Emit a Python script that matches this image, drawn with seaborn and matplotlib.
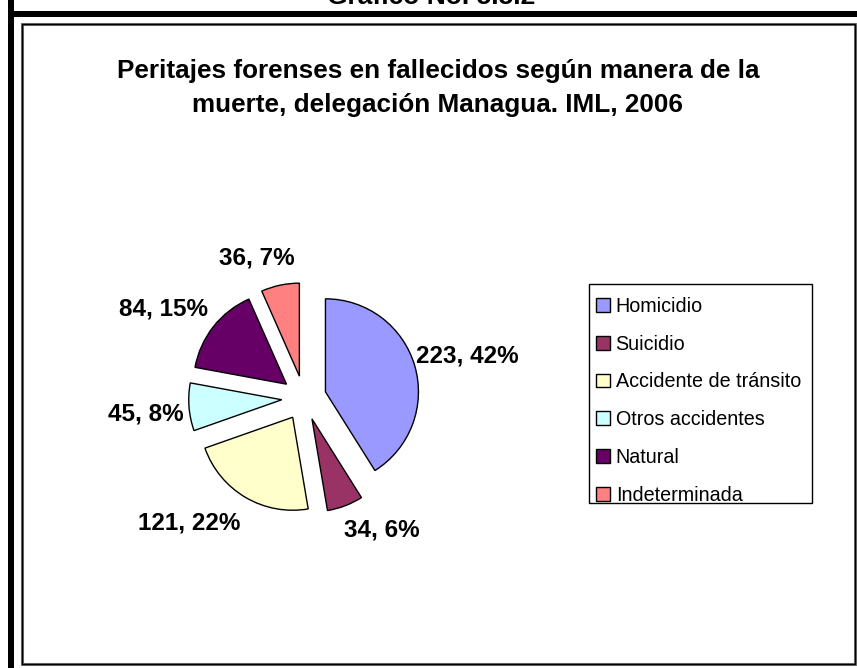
import math
import matplotlib
matplotlib.use("Agg")
import matplotlib.pyplot as plt
from matplotlib.patches import Rectangle
import seaborn as sns

# Datos: peritajes forenses en fallecidos por manera de la muerte
categorias = ["Homicidio", "Suicidio", "Accidente de tránsito",
              "Otros accidentes", "Natural", "Indeterminada"]
casos = [223, 34, 121, 45, 84, 36]
porcentajes = [42, 6, 22, 8, 15, 7]
colores = ["#9999FF", "#993366", "#FFFFCC", "#CCFFFF", "#660066", "#FF8080"]

titulo = "Peritajes forenses en fallecidos según manera de la\nmuerte, delegación Managua. IML, 2006"
encabezado = "Gráfico No. 5.5.2"

# Colocación de las etiquetas: distancia (en radios) y ajuste angular (grados)
dist_etiqueta = [1.81, 1.65, 1.82, 1.71, 1.79, 1.59]
giro_etiqueta = [-1.6, 9.6, -12.0, 1.2, 6.0, 6.5]

sns.set_theme(style="white")
plt.rcParams["font.family"] = ["Liberation Sans", "DejaVu Sans"]
plt.rcParams["text.color"] = "black"

W, H = 857, 668
fig = plt.figure(figsize=(W / 100, H / 100), dpi=100)
fig.patch.set_facecolor("white")

def fx(px):
    return px / W

def fy(py):
    return 1 - py / H

# Marco exterior grueso (parcialmente recortado) y marco interior del gráfico
fig.patches.append(Rectangle((fx(8), fy(668)), fx(6), 1, transform=fig.transFigure,
                             facecolor="black", edgecolor="none", zorder=0))
fig.patches.append(Rectangle((fx(8), fy(17)), 1, 6 / H, transform=fig.transFigure,
                             facecolor="black", edgecolor="none", zorder=0))
fig.patches.append(Rectangle((fx(22), fy(664)), fx(855 - 22), (664 - 24) / H,
                             transform=fig.transFigure, facecolor="none",
                             edgecolor="#777777", linewidth=2.2, zorder=1))
fig.patches.append(Rectangle((fx(21.5), fy(663.5)), fx(855 - 22), (664 - 24) / H,
                             transform=fig.transFigure, facecolor="none",
                             edgecolor="black", linewidth=1.0, zorder=1))

# Encabezado del gráfico
fig.text(fx(431), fy(4.0), encabezado, ha="center", va="baseline",
         fontsize=19, fontweight="bold", color="black")

# Título
fig.text(fx(438), fy(88), titulo, ha="center", va="center", fontsize=18.8,
         fontweight="bold", color="black", linespacing=1.5)

# Pastel con todas las porciones separadas
R = 93.0
cx, cy = 304, 398
half = 200
ax = fig.add_axes([fx(cx - half), fy(cy + half), 2 * half / W, 2 * half / H])

etiquetas = [f"{c}, {p}%" for c, p in zip(casos, porcentajes)]
wedges, textos = ax.pie(
    casos,
    colors=colores,
    startangle=90,
    counterclock=False,
    explode=[0.24] * len(casos),
    labels=etiquetas,
    labeldistance=1.5,
    radius=1.0,
    wedgeprops=dict(edgecolor="black", linewidth=1.0),
    textprops=dict(ha="center", va="center", fontsize=17.5,
                   fontweight="bold", color="black"),
)
for w, t, d, g in zip(wedges, textos, dist_etiqueta, giro_etiqueta):
    ang = math.radians((w.theta1 + w.theta2) / 2 + g)
    t.set_position((d * math.cos(ang), d * math.sin(ang)))

ax.set_xlim(-half / R, half / R)
ax.set_ylim(-half / R, half / R)
ax.set_aspect("equal")
ax.axis("off")

# Leyenda con marco rectangular propio
fig.patches.append(Rectangle((fx(589), fy(503)), fx(812 - 589), (503 - 284) / H,
                             transform=fig.transFigure, facecolor="white",
                             edgecolor="black", linewidth=1.0, zorder=2))
leg = fig.legend(
    wedges, categorias,
    loc="upper left",
    bbox_to_anchor=(fx(589), fy(290)),
    borderaxespad=0.0,
    frameon=False,
    fontsize=14.2,
    handlelength=0.7,
    handleheight=0.7,
    handletextpad=0.3,
    labelspacing=0.95,
    borderpad=0.35,
)
leg.set_zorder(3)
for t in leg.get_texts():
    t.set_color("black")
for h in leg.legend_handles:
    h.set_linewidth(1.0)
    h.set_edgecolor("black")

fig.savefig("out.png", dpi=100, facecolor="white")
